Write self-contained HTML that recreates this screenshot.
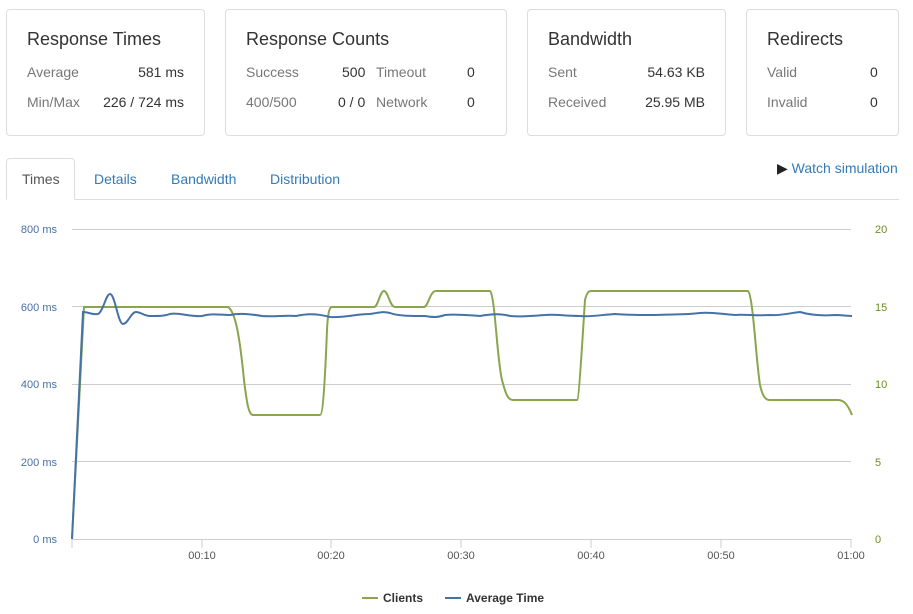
<!DOCTYPE html>
<html><head><meta charset="utf-8"><style>
body{margin:0;width:913px;height:614px;background:#fff;font-family:"Liberation Sans",Arial,sans-serif;position:relative;overflow:hidden}
.card{position:absolute;top:9px;height:127px;border:1px solid #ddd;border-radius:4px;box-sizing:border-box}
.card h3{position:absolute;left:20px;top:19px;margin:0;font-size:18px;font-weight:normal;color:#333}
.t{position:absolute;font-size:14px;color:#777}
.v{position:absolute;font-size:14px;color:#333;text-align:right}
.tab{position:absolute;top:171px;font-size:14px;color:#337ab7}
</style></head><body>
<div class="card" style="left:6px;width:199px"><h3>Response Times</h3>
<span class="t" style="left:20px;top:54px">Average</span><span class="v" style="right:20px;top:54px">581 ms</span>
<span class="t" style="left:20px;top:84px">Min/Max</span><span class="v" style="right:20px;top:84px">226 / 724 ms</span></div>
<div class="card" style="left:225px;width:282px"><h3>Response Counts</h3>
<span class="t" style="left:20px;top:54px">Success</span><span class="v" style="left:116px;top:54px">500</span><span class="t" style="left:150px;top:54px">Timeout</span><span class="v" style="left:241px;top:54px">0</span>
<span class="t" style="left:20px;top:84px">400/500</span><span class="v" style="left:112px;top:84px">0 / 0</span><span class="t" style="left:150px;top:84px">Network</span><span class="v" style="left:241px;top:84px">0</span></div>
<div class="card" style="left:527px;width:199px"><h3>Bandwidth</h3>
<span class="t" style="left:20px;top:54px">Sent</span><span class="v" style="right:20px;top:54px">54.63 KB</span>
<span class="t" style="left:20px;top:84px">Received</span><span class="v" style="right:20px;top:84px">25.95 MB</span></div>
<div class="card" style="left:746px;width:153px"><h3>Redirects</h3>
<span class="t" style="left:20px;top:54px">Valid</span><span class="v" style="left:123px;top:54px">0</span>
<span class="t" style="left:20px;top:84px">Invalid</span><span class="v" style="left:123px;top:84px">0</span></div>
<div style="position:absolute;left:6px;top:199px;width:893px;border-top:1px solid #ddd"></div>
<div style="position:absolute;left:6px;top:158px;width:69px;height:42px;border:1px solid #ddd;border-bottom:1px solid #fff;border-radius:4px 4px 0 0;box-sizing:border-box;background:#fff"></div>
<span class="tab" style="left:22px;color:#555">Times</span>
<span class="tab" style="left:94px">Details</span>
<span class="tab" style="left:171px">Bandwidth</span>
<span class="tab" style="left:270px">Distribution</span>
<span style="position:absolute;left:777px;top:160px;font-size:14px;color:#337ab7"><span style="color:#222">&#9654;</span> Watch simulation</span>
<svg width="913" height="614" style="position:absolute;left:0;top:0" font-family="Liberation Sans, Arial, sans-serif">
<g stroke="#ccc" stroke-width="1">
<line x1="72" y1="229.5" x2="851" y2="229.5"/><line x1="72" y1="306.5" x2="851" y2="306.5"/><line x1="72" y1="384.5" x2="851" y2="384.5"/><line x1="72" y1="461.5" x2="851" y2="461.5"/><line x1="72" y1="539.5" x2="851" y2="539.5"/>
<line x1="72" y1="539" x2="72" y2="548"/><line x1="202" y1="539" x2="202" y2="548"/><line x1="331" y1="539" x2="331" y2="548"/><line x1="461" y1="539" x2="461" y2="548"/><line x1="591" y1="539" x2="591" y2="548"/><line x1="721" y1="539" x2="721" y2="548"/><line x1="851" y1="539" x2="851" y2="548"/>
</g>
<g font-size="11" fill="#4a6fa5" text-anchor="end">
<text x="57" y="233">800 ms</text><text x="57" y="311">600 ms</text><text x="57" y="388">400 ms</text><text x="57" y="466">200 ms</text><text x="57" y="543">0 ms</text></g>
<g font-size="11" fill="#6b8e23" text-anchor="start">
<text x="875" y="233">20</text><text x="875" y="311">15</text><text x="875" y="388">10</text><text x="875" y="466">5</text><text x="875" y="543">0</text></g>
<g font-size="11" fill="#555" text-anchor="middle">
<text x="202" y="559">00:10</text><text x="331" y="559">00:20</text><text x="461" y="559">00:30</text><text x="591" y="559">00:40</text><text x="721" y="559">00:50</text><text x="851" y="559">01:00</text></g>
<path fill="none" stroke="#89a54e" stroke-width="2" d="M72,539 L84,307 L228,307 C236,312 240,340 244,380 C247,405 249,415 253,415 L320,415 C323,415 325,380 327,330 C328,310 330,307 332,307 L374,307 C378,307 380,291 384,291 C388,291 390,307 395,307 L424,307 C428,307 430,291 436,291 L490,291 C495,295 497,360 502,380 C506,395 508,400 513,400 L577,400 C579,400 583,330 585,300 C587,292 589,291 591,291 L748,291 C753,295 756,360 760,385 C763,398 766,400 770,400 L838,400 C844,400 848,405 852,415"/>
<path fill="none" stroke="#4572a7" stroke-width="2" d="M72,539 L83,312 C88,312 93,315 98,314 C103,312 106,294 110,294 C115,294 118,324 123,324 C128,324 131,312 136,312 C141,312 144,316 150,316 C160,316 165,316 170,314 C178,312 190,317 202,316 C212,313 220,315 230,315 C240,313 250,314 262,316 C275,317 285,315 296,316 C305,314 315,313 330,317 C345,318 355,314 370,314 C378,313 382,311 390,313 C398,316 410,316 425,316 C432,317 436,318 445,315 C455,314 465,315 480,316 C490,314 500,313 510,316 C520,317 530,316 545,315 C555,314 565,316 580,316 C590,317 600,315 615,314 C625,315 640,315 655,315 C670,314 685,315 700,313 C712,312 720,314 735,315 C745,314 755,316 770,315 C780,316 790,313 800,312 C810,315 820,316 835,315 C842,315 848,316 852,316"/>
<line x1="362" y1="598" x2="378" y2="598" stroke="#89a54e" stroke-width="2"/>
<text x="383" y="602" font-size="12" font-weight="bold" fill="#333">Clients</text>
<line x1="445" y1="598" x2="461" y2="598" stroke="#4572a7" stroke-width="2"/>
<text x="466" y="602" font-size="12" font-weight="bold" fill="#333">Average Time</text>
</svg>
</body></html>
